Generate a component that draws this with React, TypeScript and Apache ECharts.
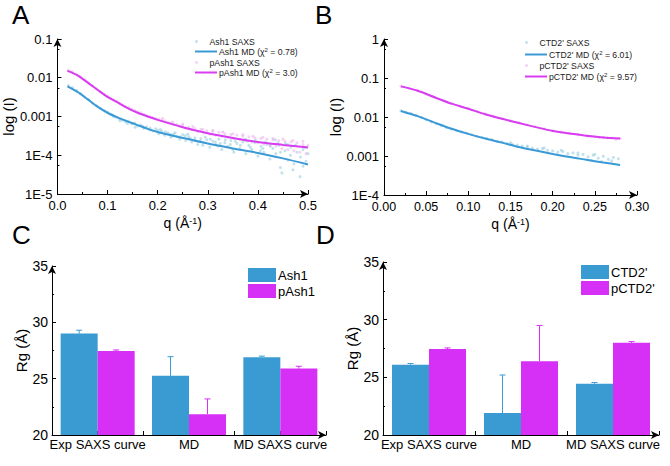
import React, { useEffect, useRef } from 'react';
import * as echarts from 'echarts';

const FONT = '"Liberation Sans", Arial, Helvetica, sans-serif';

// ---------- Panel A data ----------
const qA = [0.02, 0.04, 0.06, 0.08, 0.10, 0.12, 0.14, 0.16, 0.18, 0.20, 0.25, 0.30, 0.35, 0.40, 0.45, 0.50];
const ash1MD = [0.0060, 0.0043, 0.0028, 0.0018, 0.00125, 0.00095, 0.00075, 0.00060, 0.00048, 0.00040, 0.00028, 0.00020, 0.00015, 0.000115, 0.000083, 0.000058];
const pAsh1MD = [0.015, 0.0115, 0.0076, 0.0049, 0.0032, 0.0023, 0.00165, 0.00125, 0.00100, 0.00082, 0.00053, 0.00037, 0.00028, 0.00022, 0.000185, 0.000158];
const ash1SAXS: number[][] = [
  [0.022, 0.0063], [0.03, 0.0056], [0.038, 0.0047], [0.046, 0.0039], [0.054, 0.0032], [0.062, 0.0027], [0.07, 0.0022], [0.078, 0.0019],
  [0.086, 0.0016], [0.094, 0.0014], [0.1, 0.00128], [0.106, 0.00115], [0.112, 0.00098], [0.118, 0.00094], [0.124, 0.00086], [0.13, 0.00080],
  [0.136, 0.00072], [0.142, 0.00074], [0.148, 0.00064], [0.154, 0.00068], [0.16, 0.00057], [0.166, 0.00060], [0.172, 0.00049], [0.178, 0.00054],
  [0.184, 0.00045], [0.19, 0.00042], [0.196, 0.00048], [0.202, 0.00036], [0.208, 0.00042], [0.214, 0.00033], [0.22, 0.00038], [0.226, 0.00029],
  [0.232, 0.00035], [0.238, 0.00031], [0.244, 0.00026], [0.25, 0.00034], [0.256, 0.00024], [0.262, 0.00030], [0.268, 0.00022], [0.274, 0.00028],
  [0.28, 0.00019], [0.286, 0.00027], [0.292, 0.00021], [0.298, 0.00025], [0.304, 0.00016], [0.31, 0.00023], [0.316, 0.00019], [0.322, 0.00026],
  [0.328, 0.00014], [0.334, 0.00021], [0.34, 0.00017], [0.346, 0.00024], [0.352, 0.00012], [0.358, 0.00020], [0.364, 0.00015], [0.37, 0.00022],
  [0.376, 0.00011], [0.382, 0.00018], [0.388, 0.00014], [0.394, 0.00021], [0.40, 0.000095], [0.406, 0.00017], [0.412, 0.00012], [0.418, 0.00019],
  [0.424, 0.00008], [0.43, 0.00015], [0.436, 0.00011], [0.442, 0.00018], [0.448, 0.000035], [0.454, 0.00013], [0.46, 0.000075], [0.466, 0.00016],
  [0.472, 0.00006], [0.478, 0.00012], [0.484, 0.000028], [0.49, 0.00014], [0.496, 0.00007], [0.5, 0.00011],
  [0.205, 0.00046], [0.215, 0.00040], [0.225, 0.00035], [0.235, 0.00038], [0.245, 0.00030], [0.255, 0.00032], [0.265, 0.00027], [0.275, 0.00024],
  [0.285, 0.00023], [0.295, 0.00029], [0.305, 0.00026], [0.315, 0.00022], [0.325, 0.00020], [0.335, 0.00025], [0.345, 0.00019], [0.355, 0.00023],
  [0.365, 0.00018], [0.375, 0.00026], [0.385, 0.00016], [0.395, 0.00024], [0.405, 0.00013], [0.415, 0.00022], [0.425, 0.00017], [0.435, 0.00025],
  [0.445, 0.00012], [0.455, 0.00020], [0.465, 0.00010], [0.475, 0.00018], [0.485, 0.00009], [0.495, 0.00016], [0.445, 0.000048], [0.47, 0.000042], [0.49, 0.000052],
  [0.11, 0.0011], [0.125, 0.00078], [0.14, 0.00066], [0.155, 0.00053], [0.17, 0.00055], [0.185, 0.00050], [0.2, 0.00044], [0.23, 0.00032],
  [0.26, 0.00035], [0.29, 0.00018], [0.32, 0.00017], [0.35, 0.00014], [0.38, 0.00023], [0.41, 0.00015], [0.44, 0.00021], [0.46, 0.00019],
];
const pAsh1SAXS: number[][] = [
  [0.022, 0.0155], [0.03, 0.0142], [0.038, 0.0124], [0.046, 0.0104], [0.054, 0.0088], [0.062, 0.0073], [0.07, 0.0062], [0.078, 0.0052],
  [0.086, 0.0043], [0.094, 0.0037], [0.1, 0.0033], [0.106, 0.0030], [0.112, 0.0027], [0.118, 0.0025], [0.124, 0.0022], [0.13, 0.0020],
  [0.136, 0.0018], [0.142, 0.0017], [0.148, 0.00155], [0.154, 0.00145], [0.16, 0.00132], [0.166, 0.00125], [0.172, 0.00114], [0.178, 0.00106],
  [0.184, 0.00100], [0.19, 0.00094], [0.196, 0.00089], [0.202, 0.00086], [0.208, 0.00080], [0.214, 0.00078], [0.22, 0.00071], [0.226, 0.00069],
  [0.232, 0.00063], [0.238, 0.00062], [0.244, 0.00056], [0.25, 0.00058], [0.256, 0.00050], [0.262, 0.00053], [0.268, 0.00046], [0.274, 0.00049],
  [0.28, 0.00041], [0.286, 0.00046], [0.292, 0.00038], [0.298, 0.00043], [0.304, 0.00035], [0.31, 0.00041], [0.316, 0.00033], [0.322, 0.00039],
  [0.328, 0.00031], [0.334, 0.00036], [0.34, 0.00029], [0.346, 0.00034], [0.352, 0.00027], [0.358, 0.00033], [0.364, 0.00026], [0.37, 0.00031],
  [0.376, 0.00024], [0.382, 0.00030], [0.388, 0.00022], [0.394, 0.00028], [0.40, 0.00021], [0.406, 0.00027], [0.412, 0.00019], [0.418, 0.00026],
  [0.424, 0.00018], [0.43, 0.00025], [0.436, 0.00017], [0.442, 0.00024], [0.448, 0.00015], [0.454, 0.00023], [0.46, 0.00014], [0.466, 0.00022],
  [0.472, 0.00013], [0.478, 0.00021], [0.484, 0.00012], [0.49, 0.00019], [0.496, 0.00011], [0.5, 0.00018],
  [0.21, 0.00090], [0.23, 0.00072], [0.25, 0.00064], [0.27, 0.00055], [0.29, 0.00047], [0.31, 0.00044], [0.33, 0.00040], [0.35, 0.00036],
  [0.37, 0.00034], [0.39, 0.00031], [0.41, 0.00029], [0.43, 0.00027], [0.45, 0.00026], [0.47, 0.00024], [0.49, 0.00023],
];
const namesA = ['Ash1 SAXS', 'Ash1 MD', 'pAsh1 SAXS', 'pAsh1 MD'];
const chiA = ['0.78', '3.0'];
const yTicksA = ['1E-5', '1E-4', '0.001', '0.01', '0.1'];

// ---------- Panel B data ----------
const qB = [0.02, 0.04, 0.06, 0.08, 0.10, 0.12, 0.14, 0.16, 0.18, 0.20, 0.22, 0.24, 0.26, 0.28];
const ctd2MD = [0.0143, 0.0105, 0.0072, 0.0050, 0.0037, 0.0028, 0.0022, 0.0017, 0.00138, 0.00113, 0.00094, 0.00080, 0.00068, 0.00059];
const pctd2MD = [0.061, 0.047, 0.032, 0.022, 0.0163, 0.0118, 0.0090, 0.0070, 0.0055, 0.0044, 0.0038, 0.0033, 0.0030, 0.0028];
const ctd2SAXS: number[][] = [
  [0.02, 0.0145], [0.026, 0.0133], [0.032, 0.0122], [0.038, 0.0110], [0.044, 0.0097], [0.05, 0.0085], [0.056, 0.0075], [0.062, 0.0067],
  [0.068, 0.0060], [0.074, 0.0054], [0.08, 0.0049], [0.086, 0.0045], [0.092, 0.0041], [0.098, 0.0038], [0.104, 0.0035], [0.11, 0.0032],
  [0.116, 0.0030], [0.122, 0.0028], [0.128, 0.0026], [0.134, 0.0024], [0.14, 0.0023], [0.146, 0.0021], [0.152, 0.0020], [0.158, 0.0019],
  [0.164, 0.0018], [0.17, 0.0017], [0.176, 0.0016], [0.182, 0.0015], [0.188, 0.00155], [0.194, 0.0014], [0.2, 0.00135], [0.206, 0.00125],
  [0.212, 0.0013], [0.218, 0.00115], [0.224, 0.0012], [0.23, 0.00105], [0.236, 0.0011], [0.242, 0.00095], [0.248, 0.00105], [0.254, 0.00088],
  [0.26, 0.00098], [0.266, 0.00082], [0.272, 0.00092], [0.278, 0.00085], [0.246, 0.00078], [0.258, 0.00072], [0.27, 0.00075], [0.15, 0.0022],
  [0.17, 0.0018], [0.19, 0.0016], [0.21, 0.0014], [0.23, 0.0012], [0.25, 0.0011],
];
const pctd2SAXS: number[][] = [
  [0.02, 0.062], [0.03, 0.055], [0.04, 0.048], [0.05, 0.039], [0.06, 0.032], [0.07, 0.026], [0.08, 0.022], [0.09, 0.019], [0.10, 0.0165],
  [0.11, 0.0140], [0.12, 0.0120], [0.13, 0.0104], [0.14, 0.0091], [0.15, 0.0080], [0.16, 0.0071], [0.17, 0.0063], [0.18, 0.0056], [0.19, 0.0050],
  [0.2, 0.0045], [0.21, 0.0041], [0.22, 0.0038], [0.23, 0.0035], [0.24, 0.0033], [0.25, 0.0031], [0.26, 0.0030], [0.27, 0.0029], [0.28, 0.0028],
  [0.275, 0.0027], [0.265, 0.0029], [0.255, 0.0030],
];
const namesB = ["CTD2' SAXS", "CTD2' MD", "pCTD2' SAXS", "pCTD2' MD"];
const chiB = ['6.01', '9.57'];
const yTicksB = ['1E-4', '0.001', '0.01', '0.1', '1'];

// ---------- Panels C, D data ----------
const rgCats = ['Exp SAXS curve', 'MD', 'MD SAXS curve'];
const ash1Rg = [29.0, 25.25, 26.9];
const ash1Err = [0.3, 1.7, 0.1];
const pAsh1Rg = [27.45, 21.85, 25.9];
const pAsh1Err = [0.1, 1.35, 0.2];
const ctd2Rg = [26.1, 21.9, 24.45];
const ctd2Err = [0.1, 3.3, 0.1];
const pctd2Rg = [27.45, 26.4, 28.0];
const pctd2Err = [0.1, 3.1, 0.1];
const namesC = ['Ash1', 'pAsh1'];
const namesD = ["CTD2'", "pCTD2'"];

const BLUE = '#3a9bd2';
const MAGENTA = '#d62ff5';
const LINE_BLUE = '#3a9ad6';
const LINE_MAG = '#d83cf0';
const DOT_BLUE = 'rgba(125,195,215,0.6)';
const DOT_PINK = 'rgba(232,150,232,0.55)';

const axisLine = { show: true, lineStyle: { color: '#000', width: 1 }, symbol: ['none', 'arrow'], symbolSize: [6, 8] };
const axisTick = { show: true, inside: true, length: 4, lineStyle: { color: '#000' } };
const minorTick = { show: true, splitNumber: 2, length: 2, lineStyle: { color: '#000' } };

function errSeries(name: string, xi: number, yi: number, vals: number[], errs: number[], color: string, off: number) {
  return {
    type: 'custom', name, xAxisIndex: xi, yAxisIndex: yi, z: 5, silent: true,
    data: vals.map((v, i) => [i, v, errs[i]]),
    encode: { x: 0, y: 1 },
    renderItem: (_p: any, api: any) => {
      const base = api.coord([api.value(0), api.value(1)]);
      const top = api.coord([api.value(0), api.value(1) + api.value(2)]);
      const x = base[0] + off;
      return {
        type: 'group',
        children: [
          { type: 'line', shape: { x1: x, y1: base[1], x2: x, y2: top[1] }, style: { stroke: color, lineWidth: 1 } },
          { type: 'line', shape: { x1: x - 3, y1: top[1], x2: x + 3, y2: top[1] }, style: { stroke: color, lineWidth: 1 } },
        ],
      };
    },
  };
}

function chiFormatter(names: string[], chis: string[]) {
  return (name: string) => {
    if (name === names[1]) return `${name} (χ{sup|2} = ${chis[0]})`;
    if (name === names[3]) return `${name} (χ{sup|2} = ${chis[1]})`;
    return name;
  };
}

const supRich = { sup: { fontSize: 6, verticalAlign: 'top', lineHeight: 6, fontFamily: FONT, color: '#222' } };

function rowLegends(names: string[], chis: string[], left: number, tops: number[], colors: string[]) {
  return names.map((n, i) => {
    const isDot = n.includes('SAXS');
    return {
      data: [isDot ? { name: n, icon: 'circle' } : { name: n, icon: 'rect', itemStyle: { color: colors[i] } }],
      left, top: tops[i], padding: 0, itemWidth: 22, itemHeight: isDot ? 3 : 2, itemGap: 0,
      selectedMode: false,
      formatter: chiFormatter(names, chis),
      textStyle: { fontSize: 8.7, fontFamily: FONT, color: '#222', padding: [0, 0, 0, -3], rich: supRich },
    };
  });
}

const qName = 'q (Å{sup|-1})';
const qNameStyle = { fontSize: 14, fontFamily: FONT, color: '#000', rich: { sup: { fontSize: 9, verticalAlign: 'top', lineHeight: 9, fontFamily: FONT, color: '#000' } } };
const legendColors = [DOT_BLUE, LINE_BLUE, DOT_PINK, LINE_MAG];

export default function App() {
  const ref = useRef<HTMLDivElement>(null);
  useEffect(() => {
    if (!ref.current) return;
    const chart = echarts.init(ref.current, undefined, { renderer: 'svg' });
    const letter = (t: string, x: number, y: number) => ({
      type: 'text', left: x, top: y, style: { text: t, fontSize: 26, fontFamily: FONT, fill: '#000' },
    });
    const option: any = {
      animation: false,
      backgroundColor: '#fff',
      textStyle: { fontFamily: FONT },
      grid: [
        { left: 57, top: 39, width: 251, height: 155 },
        { left: 384, top: 39, width: 253, height: 156 },
        { left: 52, top: 266, width: 274, height: 169 },
        { left: 383, top: 262, width: 276, height: 173 },
      ],
      graphic: [letter('A', 12, 2), letter('B', 315, 2), letter('C', 12, 222), letter('D', 316, 222)],
      legend: [
        ...rowLegends(namesA, chiA, 195, [37, 47, 58, 68], legendColors),
        ...rowLegends(namesB, chiB, 525, [38, 50, 61, 72], legendColors),
        {
          data: namesC.map((n) => ({ name: n, icon: 'rect' })), orient: 'vertical', left: 248, top: 268, padding: 0,
          itemWidth: 28, itemHeight: 14, itemGap: 2, selectedMode: false,
          textStyle: { fontSize: 13, fontFamily: FONT, color: '#000', padding: [0, 0, 0, -3] },
        },
        {
          data: namesD.map((n) => ({ name: n, icon: 'rect' })), orient: 'vertical', left: 581, top: 265, padding: 0,
          itemWidth: 28, itemHeight: 14, itemGap: 2, selectedMode: false,
          textStyle: { fontSize: 13, fontFamily: FONT, color: '#000', padding: [0, 0, 0, -3] },
        },
      ],
      xAxis: [
        {
          type: 'value', gridIndex: 0, min: 0, max: 0.5, interval: 0.1, axisLine, axisTick, minorTick, splitLine: { show: false },
          axisLabel: { color: '#000', fontSize: 13, fontFamily: FONT, margin: 5, formatter: (v: number) => v.toFixed(1) },
          name: qName, nameLocation: 'middle', nameGap: 22, nameTextStyle: qNameStyle,
        },
        {
          type: 'value', gridIndex: 1, min: 0, max: 0.3, interval: 0.05, axisLine, axisTick, minorTick, splitLine: { show: false },
          axisLabel: { color: '#000', fontSize: 12.5, fontFamily: FONT, margin: 5, formatter: (v: number) => v.toFixed(2) },
          name: qName, nameLocation: 'middle', nameGap: 22, nameTextStyle: qNameStyle,
        },
        {
          type: 'category', gridIndex: 2, data: rgCats, axisLine, axisTick: { ...axisTick, alignWithLabel: false },
          axisLabel: { color: '#000', fontSize: 13, fontFamily: FONT, margin: 3, interval: 0 },
        },
        {
          type: 'category', gridIndex: 3, data: rgCats, axisLine, axisTick: { ...axisTick, alignWithLabel: false },
          axisLabel: { color: '#000', fontSize: 13, fontFamily: FONT, margin: 3, interval: 0 },
        },
        {
          type: 'category', gridIndex: 2, data: rgCats, position: 'bottom', axisLine: { show: false },
          axisLabel: { show: false }, axisTick: { ...axisTick, alignWithLabel: true },
        },
        {
          type: 'category', gridIndex: 3, data: rgCats, position: 'bottom', axisLine: { show: false },
          axisLabel: { show: false }, axisTick: { ...axisTick, alignWithLabel: true },
        },
      ],
      yAxis: [
        {
          type: 'log', gridIndex: 0, min: 1e-5, max: 0.1, logBase: 10, axisLine, axisTick, minorTick, splitLine: { show: false },
          axisLabel: { color: '#000', fontSize: 13, fontFamily: FONT, margin: 5, formatter: (_v: number, i: number) => yTicksA[i] },
          name: 'log (I)', nameLocation: 'middle', nameGap: 36, nameRotate: 90,
          nameTextStyle: { fontSize: 15, fontFamily: FONT, color: '#000' },
        },
        {
          type: 'log', gridIndex: 1, min: 1e-4, max: 1, logBase: 10, axisLine, axisTick, minorTick, splitLine: { show: false },
          axisLabel: { color: '#000', fontSize: 13, fontFamily: FONT, margin: 5, formatter: (_v: number, i: number) => yTicksB[i] },
          name: 'log (I)', nameLocation: 'middle', nameGap: 37, nameRotate: 90,
          nameTextStyle: { fontSize: 15, fontFamily: FONT, color: '#000' },
        },
        {
          type: 'value', gridIndex: 2, min: 20, max: 35, interval: 5, axisLine, axisTick, minorTick, splitLine: { show: false },
          axisLabel: { color: '#000', fontSize: 14, fontFamily: FONT, margin: 4 },
          name: 'Rg (Å)', nameLocation: 'middle', nameGap: 23, nameRotate: 90,
          nameTextStyle: { fontSize: 15, fontFamily: FONT, color: '#000' },
        },
        {
          type: 'value', gridIndex: 3, min: 20, max: 35, interval: 5, axisLine, axisTick, minorTick, splitLine: { show: false },
          axisLabel: { color: '#000', fontSize: 14, fontFamily: FONT, margin: 4 },
          name: 'Rg (Å)', nameLocation: 'middle', nameGap: 23, nameRotate: 90,
          nameTextStyle: { fontSize: 15, fontFamily: FONT, color: '#000' },
        },
      ],
      series: [
        { name: namesA[0], type: 'scatter', xAxisIndex: 0, yAxisIndex: 0, data: ash1SAXS, symbolSize: 3, itemStyle: { color: DOT_BLUE }, z: 1 },
        { name: namesA[2], type: 'scatter', xAxisIndex: 0, yAxisIndex: 0, data: pAsh1SAXS, symbolSize: 3, itemStyle: { color: DOT_PINK }, z: 1 },
        { name: namesA[1], type: 'line', xAxisIndex: 0, yAxisIndex: 0, data: qA.map((q, i) => [q, ash1MD[i]]), smooth: 0.3, symbol: 'none', lineStyle: { color: LINE_BLUE, width: 2 }, itemStyle: { color: LINE_BLUE }, z: 3 },
        { name: namesA[3], type: 'line', xAxisIndex: 0, yAxisIndex: 0, data: qA.map((q, i) => [q, pAsh1MD[i]]), smooth: 0.3, symbol: 'none', lineStyle: { color: LINE_MAG, width: 2 }, itemStyle: { color: LINE_MAG }, z: 3 },
        { name: namesB[0], type: 'scatter', xAxisIndex: 1, yAxisIndex: 1, data: ctd2SAXS, symbolSize: 3, itemStyle: { color: DOT_BLUE }, z: 1 },
        { name: namesB[2], type: 'scatter', xAxisIndex: 1, yAxisIndex: 1, data: pctd2SAXS, symbolSize: 3, itemStyle: { color: DOT_PINK }, z: 1 },
        { name: namesB[1], type: 'line', xAxisIndex: 1, yAxisIndex: 1, data: qB.map((q, i) => [q, ctd2MD[i]]), smooth: 0.3, symbol: 'none', lineStyle: { color: LINE_BLUE, width: 2 }, itemStyle: { color: LINE_BLUE }, z: 3 },
        { name: namesB[3], type: 'line', xAxisIndex: 1, yAxisIndex: 1, data: qB.map((q, i) => [q, pctd2MD[i]]), smooth: 0.3, symbol: 'none', lineStyle: { color: LINE_MAG, width: 2 }, itemStyle: { color: LINE_MAG }, z: 3 },
        { name: namesC[0], type: 'bar', xAxisIndex: 2, yAxisIndex: 2, data: ash1Rg, barWidth: 37, barGap: '0%', itemStyle: { color: BLUE } },
        { name: namesC[1], type: 'bar', xAxisIndex: 2, yAxisIndex: 2, data: pAsh1Rg, barWidth: 37, barGap: '0%', itemStyle: { color: MAGENTA } },
        { name: namesD[0], type: 'bar', xAxisIndex: 3, yAxisIndex: 3, data: ctd2Rg, barWidth: 37, barGap: '0%', itemStyle: { color: BLUE } },
        { name: namesD[1], type: 'bar', xAxisIndex: 3, yAxisIndex: 3, data: pctd2Rg, barWidth: 37, barGap: '0%', itemStyle: { color: MAGENTA } },
        errSeries('Ash1 err', 2, 2, ash1Rg, ash1Err, BLUE, -18.5),
        errSeries('pAsh1 err', 2, 2, pAsh1Rg, pAsh1Err, MAGENTA, 18.5),
        errSeries("CTD2' err", 3, 3, ctd2Rg, ctd2Err, BLUE, -18.5),
        errSeries("pCTD2' err", 3, 3, pctd2Rg, pctd2Err, MAGENTA, 18.5),
      ],
    };
    chart.setOption(option);
    return () => chart.dispose();
  }, []);
  return <div ref={ref} style={{ position: 'absolute', left: 0, top: 0, width: 670, height: 466 }} />;
}
